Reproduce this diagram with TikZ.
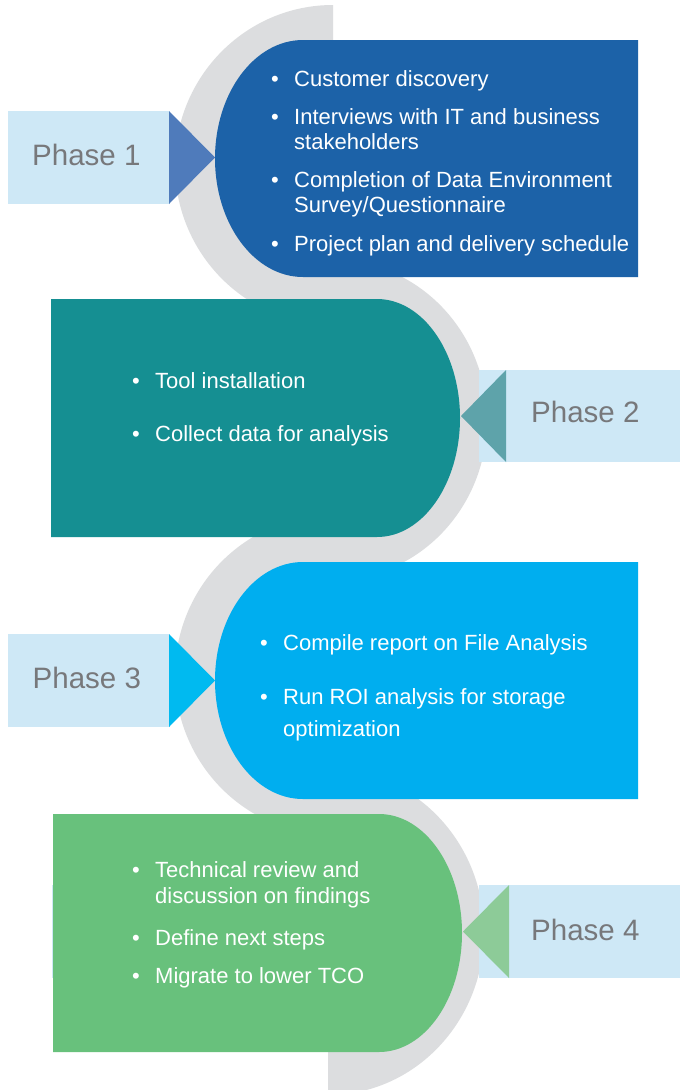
\documentclass[tikz,border=0pt]{standalone}
\usepackage{fontspec}
\setmainfont{Liberation Sans}
\definecolor{greyband}{HTML}{DCDDDF}
\definecolor{lightbox}{HTML}{CEE8F6}
\definecolor{pblue}{HTML}{1C62A8}
\definecolor{tblue}{HTML}{4F7BBB}
\definecolor{pteal}{HTML}{158F92}
\definecolor{tteal}{HTML}{5EA3AA}
\definecolor{pcyan}{HTML}{00AEEF}
\definecolor{tcyan}{HTML}{00BAF0}
\definecolor{pgreen}{HTML}{68C17C}
\definecolor{tgreen}{HTML}{8DCB98}
\definecolor{phgrey}{HTML}{77787B}
\tikzset{
  btxt/.style={anchor=base west, inner sep=0pt, text=white, font=\fontsize{22}{26}\selectfont},
  bul/.style={anchor=base, inner sep=0pt, text=white, font=\fontsize{22}{26}\selectfont},
  phase/.style={anchor=base west, inner sep=0pt, text=phgrey, font=\fontsize{29.5}{34}\selectfont},
}
\begin{document}
\begin{tikzpicture}[x=1pt,y=-1pt]
\useasboundingbox (0,0) rectangle (680,1090);
\fill[white] (0,0) rectangle (680,1090);

% grey snake band
\begin{scope}
  \clip (0,0) rectangle (333,1090);
  \fill[greyband] (333,165) ellipse [x radius=158, y radius=160];
  \fill[greyband] (333,675) ellipse [x radius=158, y radius=160];
\end{scope}
\begin{scope}
  \clip (333,0) rectangle (680,1090);
  \fill[greyband] (333,420) ellipse [x radius=154, y radius=160];
\end{scope}
\begin{scope}
  \clip (328,0) rectangle (680,1090);
  \fill[greyband] (328,932) ellipse [x radius=156, y radius=163];
\end{scope}

% light phase boxes
\fill[lightbox] (8,111) rectangle (170,204);
\fill[lightbox] (479,370) rectangle (680,462);
\fill[lightbox] (8,634) rectangle (170,727);
\fill[lightbox] (479,885) rectangle (680,978);
\fill[lightbox] (51.5,885) rectangle (53.5,978);

% triangles
\fill[tblue] (169,111) -- (215,157.5) -- (169,204) -- cycle;
\fill[tteal] (506,370) -- (461,416) -- (506,462) -- cycle;
\fill[tcyan] (169,634) -- (215,680.5) -- (169,727) -- cycle;
\fill[tgreen] (509,885) -- (463,931.5) -- (509,978) -- cycle;

% coloured boxes
\fill[pblue] (638,40) -- (303,40) arc [start angle=270, end angle=90, x radius=88, y radius=118.5] -- (638,277) -- cycle;
\fill[pteal] (51,299) -- (377,299) arc [start angle=-90, end angle=90, x radius=83, y radius=119] -- (51,537) -- cycle;
\fill[pcyan] (638,562) -- (303,562) arc [start angle=270, end angle=90, x radius=88, y radius=118.5] -- (638,799) -- cycle;
\fill[pgreen] (53,814) -- (379,814) arc [start angle=-90, end angle=90, x radius=83, y radius=119] -- (53,1052) -- cycle;

% phase labels
\node[phase] (ph1) at (32,165.7) {Phase 1};
\node[phase] (ph2) at (531,422) {Phase 2};
\node[phase] (ph3) at (32.5,688) {Phase 3};
\node[phase] (ph4) at (531,940) {Phase 4};

% phase 1 text
\node[bul] (b1a) at (275,86) {•};
\node[btxt] (t1a) at (294,86) {Customer discovery};
\node[bul] (b1b) at (275,124) {•};
\node[btxt] (t1b) at (294,124) {Interviews with IT and business};
\node[btxt] (t1c) at (294,149.5) {stakeholders};
\node[bul] (b1d) at (275,187) {•};
\node[btxt] (t1d) at (294,187) {Completion of Data Environment};
\node[btxt] (t1e) at (294,212.5) {Survey/Questionnaire};
\node[bul] (b1f) at (275,251) {•};
\node[btxt] (t1f) at (294,251) {Project plan and delivery schedule};

% phase 2 text
\node[bul] (b2a) at (136,388) {•};
\node[btxt] (t2a) at (155,388) {Tool installation};
\node[bul] (b2b) at (136,441) {•};
\node[btxt] (t2b) at (155,441) {Collect data for analysis};

% phase 3 text
\node[bul] (b3a) at (264,650) {•};
\node[btxt] (t3a) at (283,650) {Compile report on File Analysis};
\node[bul] (b3b) at (264,704) {•};
\node[btxt] (t3b) at (283,704) {Run ROI analysis for storage};
\node[btxt] (t3c) at (283,736) {optimization};

% phase 4 text
\node[bul] (b4a) at (136,877) {•};
\node[btxt] (t4a) at (155,877) {Technical review and};
\node[btxt] (t4b) at (155,903) {discussion on findings};
\node[bul] (b4c) at (136,945) {•};
\node[btxt] (t4c) at (155,945) {Define next steps};
\node[bul] (b4d) at (136,983) {•};
\node[btxt] (t4d) at (155,983) {Migrate to lower TCO};
\end{tikzpicture}
\end{document}
